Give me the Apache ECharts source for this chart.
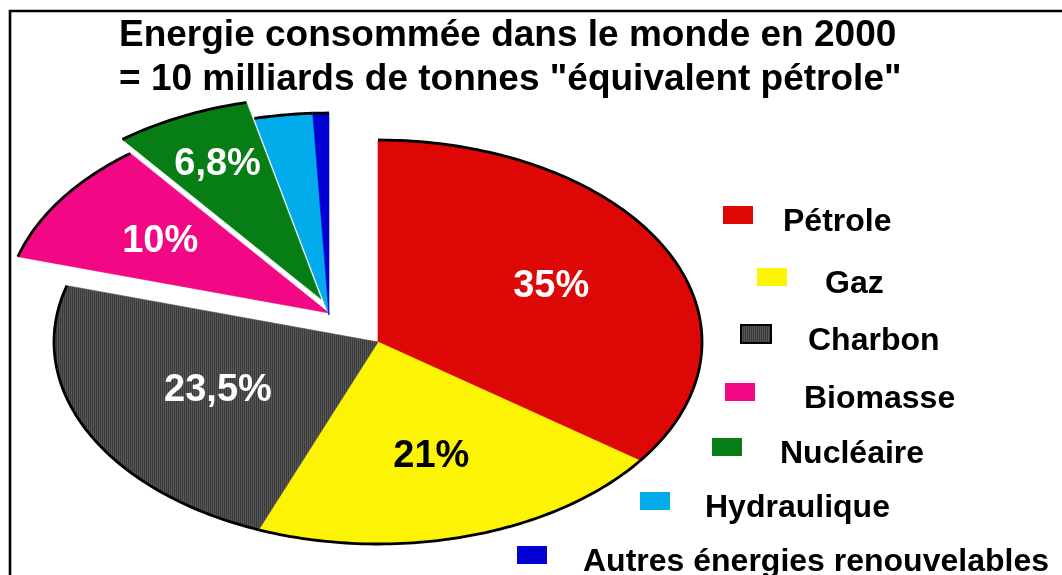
<!DOCTYPE html>
<html>
<head>
<meta charset="utf-8">
<script src="https://cdn.jsdelivr.net/npm/echarts@6/dist/echarts.min.js"></script>
<style>
html,body{margin:0;padding:0;background:#fff;}
#chart{width:1062px;height:575px;}
</style>
</head>
<body>
<div id="chart"></div>
<script>
// ---------- data ----------
const titleLines = ['Energie consommée dans le monde en 2000', '= 10 milliards de tonnes "équivalent pétrole"'];
const categories = ['Pétrole', 'Gaz', 'Charbon', 'Biomasse', 'Nucléaire', 'Hydraulique', 'Autres énergies renouvelables'];
const shares = [35, 21, 23.5, 10, 6.8, 2.9, 0.8];
const labelled = [true, true, true, true, true, false, false];

// ---------- styles / layout ----------
function makeCoalPattern() {
  const c = document.createElement('canvas');
  c.width = 2; c.height = 2;
  const g = c.getContext('2d');
  g.fillStyle = '#3a3a3a'; g.fillRect(0, 0, 2, 2);
  g.fillStyle = '#575757'; g.fillRect(1, 0, 1, 2);
  return { image: c, repeat: 'repeat' };
}
const coalPattern = makeCoalPattern();
const colors = ['#DD0806', '#FCF305', coalPattern, '#F20884', '#067D15', '#02ABEA', '#0000D4'];
const solidColors = ['#DD0806', '#FCF305', '#474747', '#F20884', '#067D15', '#02ABEA', '#0000D4'];
const labelColors = ['#ffffff', '#000000', '#ffffff', '#ffffff', '#ffffff', '#ffffff', '#ffffff'];
const labelRadius = [0.6, 0.59, 0.55, 0.63, 0.74, 0.6, 0.6];
const explodeShift = [[0, 0], [0, 0], [0, 0], [-49, -29], [-57, -43], [-49, -27], [-49, -27]];
const pieLayout = { cx: 378, cy: 342, rx: 324, ry: 202 };
const legendPos = [[723, 205], [757, 267], [740, 323], [725, 382], [712, 437], [640, 491], [517, 545]];
const legendGap = [30, 38, 37, 49, 38, 35, 36];
const FONT = '"Liberation Sans", Arial, sans-serif';
// swatch drawn in the upper part of a taller icon box so the label sits slightly lower
const swatchIcon = 'path://M0,0L30,0L30,18L0,18Z M0,32L0,32';

const total = shares.reduce((a, b) => a + b, 0);

function makeRenderItem(i) {
  return function (params, api) {
    const v = api.value(0);
    let before = 0;
    for (let k = 0; k < i; k++) before += shares[k];
    const a0 = before / total * Math.PI * 2;
    const a1 = (before + v) / total * Math.PI * 2;
    const cx = pieLayout.cx + explodeShift[i][0];
    const cy = pieLayout.cy + explodeShift[i][1];
    const rx = pieLayout.rx, ry = pieLayout.ry;
    const n = Math.max(2, Math.ceil((a1 - a0) / (Math.PI / 180)));
    const arc = [];
    for (let k = 0; k <= n; k++) {
      const a = a0 + (a1 - a0) * k / n;
      arc.push([cx + rx * Math.sin(a), cy - ry * Math.cos(a)]);
    }
    const children = [
      {
        type: 'polygon',
        shape: { points: [[cx, cy]].concat(arc) },
        style: { fill: colors[i], stroke: solidColors[i], lineWidth: 0.6 }
      },
      {
        type: 'polyline',
        shape: { points: arc },
        style: { fill: null, stroke: '#000', lineWidth: 2.8, lineJoin: 'round' }
      }
    ];
    if (labelled[i]) {
      const am = (a0 + a1) / 2;
      const f = labelRadius[i];
      children.push({
        type: 'text',
        style: {
          text: String(v).replace('.', ',') + '%',
          x: cx + f * rx * Math.sin(am),
          y: cy - f * ry * Math.cos(am),
          fill: labelColors[i],
          font: 'bold 38px ' + FONT,
          align: 'center',
          verticalAlign: 'middle'
        }
      });
    }
    return { type: 'group', children: children };
  };
}

const series = categories.map((name, i) => ({
  type: 'custom',
  name: name,
  coordinateSystem: 'none',
  silent: true,
  itemStyle: { color: colors[i] },
  data: [[shares[i]]],
  renderItem: makeRenderItem(i)
}));

const legends = categories.map((name, i) => ({
  data: [name],
  left: legendPos[i][0],
  top: legendPos[i][1] + 1,
  padding: 0,
  icon: swatchIcon,
  itemWidth: 30,
  itemHeight: 32,
  selectedMode: false,
  itemStyle: i === 2 ? { borderColor: '#000', borderWidth: 2 } : { borderWidth: 0 },
  textStyle: {
    fontFamily: FONT,
    fontWeight: 'bold',
    fontSize: 32,
    color: '#000',
    padding: [0, 0, 0, legendGap[i] - 5]
  }
}));

const chart = echarts.init(document.getElementById('chart'), null, { renderer: 'canvas' });
chart.setOption({
  animation: false,
  backgroundColor: '#fff',
  title: {
    text: titleLines.join('\n'),
    left: 114,
    top: 9,
    textStyle: { fontFamily: FONT, fontWeight: 'bold', fontSize: 37, lineHeight: 44, color: '#000' }
  },
  graphic: [{
    type: 'rect',
    silent: true,
    shape: { x: 10, y: 11, width: 1200, height: 1000 },
    style: { fill: null, stroke: '#000', lineWidth: 2.6 },
    z: 100
  }],
  legend: legends,
  series: series
});
</script>
</body>
</html>
